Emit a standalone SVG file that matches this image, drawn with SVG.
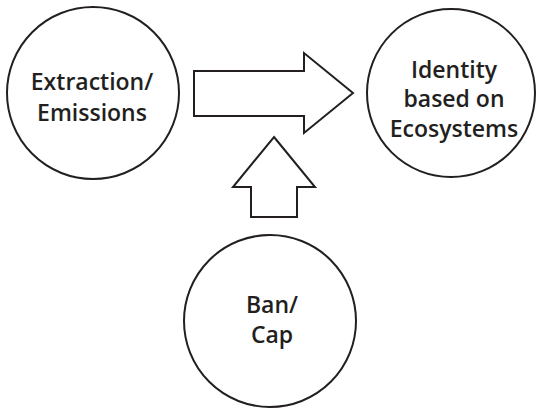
<svg xmlns="http://www.w3.org/2000/svg" width="537" height="411" viewBox="0 0 537 411">
<style>
.n{fill:#fff;stroke:#231f20;stroke-width:2}
.a{fill:#fff;stroke:#231f20;stroke-width:2;stroke-linejoin:miter}
.t{font-family:"Open Sans","Liberation Sans",sans-serif;font-weight:600;font-size:23px;fill:#231f20;text-anchor:middle}
</style>
<rect width="537" height="411" fill="#fff"/>
<g id="connectors">
<path class="a" d="M194,71 H304 V53 L353,93 L304,133 V116 H194 Z"/>
<path class="a" d="M274,137 L315,187 H297 V217 H251 V187 H233 Z"/>
</g>
<g id="extraction">
<circle class="n" cx="93" cy="93" r="86"/>
<text class="t" x="92" y="90">Extraction/</text>
<text class="t" x="92" y="121">Emissions</text>
</g>
<g id="identity">
<circle class="n" cx="451" cy="93" r="84"/>
<text class="t" x="454" y="78">Identity</text>
<text class="t" x="454" y="107">based on</text>
<text class="t" x="454" y="137">Ecosystems</text>
</g>
<g id="bancap">
<circle class="n" cx="270" cy="321" r="86"/>
<text class="t" x="272" y="313">Ban/</text>
<text class="t" x="272" y="343">Cap</text>
</g>
</svg>
